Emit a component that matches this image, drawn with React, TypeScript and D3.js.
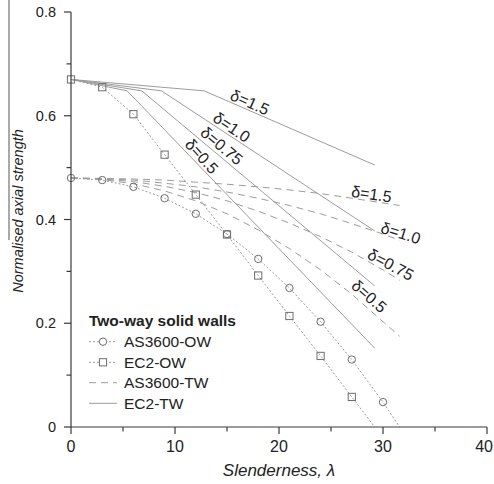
import React from "react";
import * as d3 from "d3";

const W = 494;
const H = 484;

const xTicks = [0, 10, 20, 30, 40];
const xMinorTicks = [5, 15, 25, 35];
const yTicks = [0, 0.2, 0.4, 0.6, 0.8];
const yMinorTicks = [0.1, 0.3, 0.5, 0.7];

// One-way walls (markers)
const as3600OWLambda = [0, 3, 6, 9, 12, 15, 18, 21, 24, 27, 30, 31.6];
const as3600OW = [0.48, 0.476, 0.463, 0.441, 0.411, 0.372, 0.324, 0.268, 0.203, 0.13, 0.048, 0];
const ec2OWLambda = [0, 3, 6, 9, 12, 15, 18, 21, 24, 27, 29.2];
const ec2OW = [0.67, 0.655, 0.603, 0.525, 0.448, 0.371, 0.292, 0.214, 0.137, 0.058, 0];

// Two-way walls, delta = 1.5, 1.0, 0.75, 0.5
const deltaLabels = ["1.5", "1.0", "0.75", "0.5"];
const as3600TWLambda = [0, 3, 6, 9, 12, 15, 18, 21, 24, 27, 30, 31.6];
const as3600TW_d15 = [0.48, 0.479, 0.478, 0.476, 0.472, 0.468, 0.463, 0.457, 0.45, 0.441, 0.432, 0.427];
const as3600TW_d10 = [0.48, 0.479, 0.476, 0.47, 0.463, 0.453, 0.441, 0.427, 0.411, 0.392, 0.372, 0.36];
const as3600TW_d075 = [0.48, 0.478, 0.473, 0.464, 0.452, 0.436, 0.416, 0.393, 0.367, 0.337, 0.303, 0.283];
const as3600TW_d05 = [0.48, 0.477, 0.469, 0.455, 0.436, 0.411, 0.38, 0.344, 0.303, 0.256, 0.203, 0.175];

const ec2TW_d15_x = [0, 12.8, 29.2];
const ec2TW_d15_y = [0.67, 0.648, 0.505];
const ec2TW_d10_x = [0, 8.7, 29.2];
const ec2TW_d10_y = [0.67, 0.648, 0.378];
const ec2TW_d075_x = [0, 6.8, 29.2];
const ec2TW_d075_y = [0.67, 0.648, 0.272];
const ec2TW_d05_x = [0, 5.4, 29.2];
const ec2TW_d05_y = [0.67, 0.648, 0.152];

// Annotation anchors (data coordinates) and angles
const solidLabelX = [17.2, 15.45, 14.49, 12.57];
const solidLabelY = [0.626, 0.578, 0.542, 0.522];
const solidLabelAngle = [24, 34, 40, 48];
const dashedLabelX = [28.9, 31.7, 30.75, 28.67];
const dashedLabelY = [0.449, 0.374, 0.313, 0.252];
const dashedLabelAngle = [8, 17, 28, 41];

const legendItems = ["AS3600-OW", "EC2-OW", "AS3600-TW", "EC2-TW"];

const FONT = "'Liberation Sans', Arial, Helvetica, sans-serif";
const LINE = "#9c9c9c";
const MARK = "#6e6e6e";
const AXIS = "#3a3a3a";
const TEXT = "#222";

export default function App() {
  const x = d3.scaleLinear().domain([0, 40]).range([71, 487]);
  const y = d3.scaleLinear().domain([0, 0.8]).range([427, 12]);

  const line = (xs: number[], ys: number[]) =>
    d3
      .line<number>()
      .x((_, i) => x(xs[i]))
      .y((v) => y(v))(ys) || "";

  const as3600TW = [as3600TW_d15, as3600TW_d10, as3600TW_d075, as3600TW_d05];
  const ec2TWx = [ec2TW_d15_x, ec2TW_d10_x, ec2TW_d075_x, ec2TW_d05_x];
  const ec2TWy = [ec2TW_d15_y, ec2TW_d10_y, ec2TW_d075_y, ec2TW_d05_y];

  const circleMarks = as3600OW.slice(0, as3600OW.length - 1);
  const squareMarks = ec2OW.slice(0, ec2OW.length - 1);

  const legendX = 89;
  const legendRowY = [341.7, 362.3, 382.7, 403.3];

  return (
    <svg
      width={W}
      height={H}
      style={{ position: "absolute", left: 0, top: 0, background: "#fff" }}
      fontFamily={FONT}
    >
      <rect x={0} y={0} width={W} height={H} fill="#fff" />
      <line x1={9} y1={0} x2={9} y2={240} stroke="#555" strokeWidth={1} />

      {/* EC2-TW solid lines */}
      {ec2TWx.map((xs, i) => (
        <path key={"es" + i} d={line(xs, ec2TWy[i])} fill="none" stroke={LINE} strokeWidth={1} />
      ))}
      {/* AS3600-TW dashed lines */}
      {as3600TW.map((ys, i) => (
        <path
          key={"ad" + i}
          d={line(as3600TWLambda, ys)}
          fill="none"
          stroke={LINE}
          strokeWidth={1}
          strokeDasharray="7,5"
        />
      ))}
      {/* OW dotted lines */}
      <path d={line(as3600OWLambda, as3600OW)} fill="none" stroke={LINE} strokeWidth={1} strokeDasharray="2,2" />
      <path d={line(ec2OWLambda, ec2OW)} fill="none" stroke={LINE} strokeWidth={1} strokeDasharray="2,2" />

      {circleMarks.map((v, i) => (
        <circle key={"c" + i} cx={x(as3600OWLambda[i])} cy={y(v)} r={3.7} fill="none" stroke={MARK} strokeWidth={1} />
      ))}
      {squareMarks.map((v, i) => (
        <rect
          key={"s" + i}
          x={x(ec2OWLambda[i]) - 3.6}
          y={y(v) - 3.6}
          width={7.2}
          height={7.2}
          fill="none"
          stroke={MARK}
          strokeWidth={1}
        />
      ))}

      {/* delta labels */}
      {deltaLabels.map((d, i) => (
        <text
          key={"sl" + i}
          transform={`translate(${x(solidLabelX[i])},${y(solidLabelY[i])}) rotate(${solidLabelAngle[i]})`}
          textAnchor="middle"
          dy="0.35em"
          fontSize={16}
          fill={TEXT}
        >
          {"δ=" + d}
        </text>
      ))}
      {deltaLabels.map((d, i) => (
        <text
          key={"dl" + i}
          transform={`translate(${x(dashedLabelX[i])},${y(dashedLabelY[i])}) rotate(${dashedLabelAngle[i]})`}
          textAnchor="middle"
          dy="0.35em"
          fontSize={16}
          fill={TEXT}
        >
          {"δ=" + d}
        </text>
      ))}

      {/* axes */}
      <line x1={x(0)} y1={y(0)} x2={x(40)} y2={y(0)} stroke={AXIS} strokeWidth={1.2} />
      <line x1={x(0)} y1={y(0)} x2={x(0)} y2={y(0.8)} stroke={AXIS} strokeWidth={1.2} />
      {xTicks.map((t) => (
        <g key={"xt" + t}>
          <line x1={x(t)} x2={x(t)} y1={y(0)} y2={y(0) + 7} stroke={AXIS} strokeWidth={1.2} />
          <text
            x={t === 40 ? W - 1 : x(t)}
            y={452}
            textAnchor={t === 40 ? "end" : "middle"}
            fontSize={16}
            fill={TEXT}
          >
            {t}
          </text>
        </g>
      ))}
      {xMinorTicks.map((t) => (
        <line key={"xm" + t} x1={x(t)} x2={x(t)} y1={y(0)} y2={y(0) + 4.5} stroke={AXIS} strokeWidth={1.2} />
      ))}
      {yTicks.map((t) => (
        <g key={"yt" + t}>
          <line x1={x(0) - 7} x2={x(0)} y1={y(t)} y2={y(t)} stroke={AXIS} strokeWidth={1.2} />
          <text x={56} y={y(t)} dy="0.35em" textAnchor="end" fontSize={14.5} fill={TEXT}>
            {t === 0 ? "0" : t.toFixed(1)}
          </text>
        </g>
      ))}
      {yMinorTicks.map((t) => (
        <line key={"ym" + t} x1={x(0) - 4.5} x2={x(0)} y1={y(t)} y2={y(t)} stroke={AXIS} strokeWidth={1.2} />
      ))}

      <text x={279} y={476} textAnchor="middle" fontSize={17} fontStyle="italic" fill={TEXT}>
        Slenderness, λ
      </text>
      <text
        transform="translate(23,211) rotate(-90)"
        textAnchor="middle"
        fontSize={14.5}
        fontStyle="italic"
        fill={TEXT}
      >
        Normalised axial strength
      </text>

      {/* legend */}
      <text x={legendX} y={326} fontSize={15.5} fontWeight="bold" fill={TEXT}>
        Two-way solid walls
      </text>
      {legendItems.map((name, i) => {
        const cy = legendRowY[i];
        return (
          <g key={"lg" + i}>
            <line
              x1={legendX}
              x2={legendX + 28}
              y1={cy}
              y2={cy}
              stroke={LINE}
              strokeWidth={1}
              strokeDasharray={i < 2 ? "2,2" : i === 2 ? "7,5" : undefined}
            />
            {i === 0 && <circle cx={legendX + 14} cy={cy} r={3.7} fill="#fff" stroke={MARK} strokeWidth={1} />}
            {i === 1 && (
              <rect x={legendX + 14 - 3.6} y={cy - 3.6} width={7.2} height={7.2} fill="#fff" stroke={MARK} strokeWidth={1} />
            )}
            <text x={124} y={cy} dy="0.35em" fontSize={15.5} fill={TEXT}>
              {name}
            </text>
          </g>
        );
      })}
    </svg>
  );
}
